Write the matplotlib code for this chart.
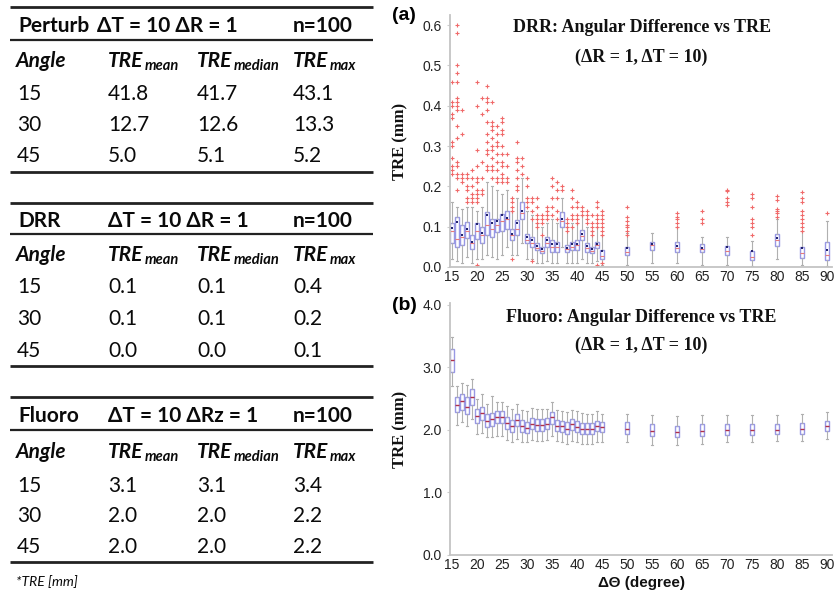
import matplotlib
matplotlib.use('Agg')
import matplotlib.pyplot as plt

# ---------------- table data ----------------
table_titles = ['Perturb', 'DRR', 'Fluoro']
table_params = ['ΔT = 10 ΔR = 1', 'ΔT = 10 ΔR = 1', 'ΔT = 10 ΔRz = 1']
table_n = ['n=100', 'n=100', 'n=100']
angle_head = 'Angle'
col_subs = ['mean', 'median', 'max']
angles = ['15', '30', '45']
perturb_vals = [['41.8', '41.7', '43.1'], ['12.7', '12.6', '13.3'], ['5.0', '5.1', '5.2']]
drr_vals = [['0.1', '0.1', '0.4'], ['0.1', '0.1', '0.2'], ['0.0', '0.0', '0.1']]
fluoro_vals = [['3.1', '3.1', '3.4'], ['2.0', '2.0', '2.2'], ['2.0', '2.0', '2.2']]
footnote = '*TRE [mm]'

# ---------------- panel (a): DRR box statistics ----------------
pos = list(range(15, 46)) + list(range(50, 91, 5))
xticks = list(range(15, 91, 5))
a_q3 = [0.108, 0.125, 0.105, 0.111, 0.080, 0.108, 0.100, 0.136, 0.120, 0.118, 0.131, 0.140, 0.095, 0.116, 0.160,
        0.083, 0.075, 0.059, 0.050, 0.075, 0.067, 0.063, 0.137, 0.055, 0.063, 0.067, 0.092, 0.059, 0.050, 0.063, 0.042,
        0.050, 0.063, 0.063, 0.056, 0.052, 0.040, 0.081, 0.050, 0.063]
a_q1 = [0.060, 0.050, 0.055, 0.073, 0.045, 0.070, 0.060, 0.080, 0.075, 0.087, 0.090, 0.095, 0.068, 0.080, 0.120,
        0.059, 0.050, 0.042, 0.034, 0.050, 0.038, 0.038, 0.100, 0.038, 0.042, 0.042, 0.067, 0.038, 0.034, 0.046, 0.020,
        0.030, 0.042, 0.036, 0.036, 0.030, 0.017, 0.052, 0.023, 0.017]
a_med = [0.090, 0.070, 0.075, 0.090, 0.060, 0.090, 0.080, 0.105, 0.095, 0.105, 0.115, 0.120, 0.080, 0.095, 0.135,
         0.068, 0.060, 0.048, 0.040, 0.060, 0.050, 0.050, 0.115, 0.045, 0.050, 0.055, 0.078, 0.047, 0.040, 0.054, 0.028,
         0.038, 0.055, 0.048, 0.045, 0.040, 0.025, 0.068, 0.035, 0.030]
a_mean = [0.097, 0.111, 0.080, 0.095, 0.063, 0.106, 0.085, 0.130, 0.110, 0.113, 0.128, 0.122, 0.083, 0.108, 0.140,
          0.075, 0.068, 0.052, 0.045, 0.067, 0.058, 0.057, 0.120, 0.048, 0.057, 0.058, 0.083, 0.053, 0.045, 0.058, 0.040,
          0.048, 0.056, 0.053, 0.048, 0.050, 0.040, 0.073, 0.047, 0.043]
a_hi = [0.160, 0.150, 0.145, 0.150, 0.150, 0.140, 0.150, 0.210, 0.200, 0.190, 0.180, 0.190, 0.140, 0.170, 0.220,
        0.140, 0.130, 0.110, 0.100, 0.110, 0.120, 0.110, 0.170, 0.100, 0.110, 0.110, 0.130, 0.100, 0.090, 0.100, 0.080,
        0.085, 0.085, 0.100, 0.075, 0.075, 0.065, 0.120, 0.090, 0.115]
a_lo = [0.020, 0.015, 0.010, 0.025, 0.010, 0.020, 0.020, 0.030, 0.025, 0.020, 0.030, 0.050, 0.030, 0.030, 0.060,
        0.020, 0.020, 0.010, 0.010, 0.015, 0.010, 0.010, 0.050, 0.010, 0.010, 0.010, 0.020, 0.010, 0.010, 0.015, 0.005,
        0.005, 0.010, 0.010, 0.005, 0.005, 0.003, 0.020, 0.005, 0.003]
a_fliers = [
    [0.46, 0.41, 0.40, 0.38, 0.37, 0.31, 0.30, 0.27, 0.25, 0.24, 0.23],
    [0.60, 0.58, 0.50, 0.48, 0.46, 0.42, 0.41, 0.40, 0.39, 0.35, 0.32, 0.26, 0.25, 0.23, 0.22, 0.19],
    [0.39, 0.33, 0.23, 0.22, 0.21],
    [0.23, 0.22, 0.20, 0.19, 0.17, 0.16],
    [0.24, 0.22, 0.20, 0.18, 0.17, 0.16],
    [0.46, 0.40, 0.29, 0.25, 0.22, 0.21, 0.19, 0.18, 0.17, 0.16, 0.005],
    [0.42, 0.38, 0.26, 0.22, 0.19, 0.18],
    [0.45, 0.42, 0.41, 0.39, 0.36, 0.33, 0.31, 0.29, 0.28, 0.25, 0.24],
    [0.41, 0.36, 0.35, 0.34, 0.32, 0.30, 0.29, 0.27, 0.25, 0.24, 0.22],
    [0.35, 0.33, 0.31, 0.30, 0.28, 0.26, 0.24, 0.22, 0.21],
    [0.37, 0.36, 0.34, 0.33, 0.30, 0.28, 0.26, 0.25, 0.23, 0.22, 0.21],
    [0.28, 0.25, 0.22, 0.21],
    [0.17, 0.16, 0.15, 0.14, 0.02],
    [0.31, 0.27, 0.26, 0.24, 0.22, 0.20, 0.19],
    [0.27, 0.25, 0.23],
    [0.22, 0.20, 0.17, 0.16, 0.15],
    [0.17, 0.16, 0.14, 0.12, 0.015],
    [0.17, 0.15, 0.13, 0.12, 0.11, 0.10],
    [0.13, 0.12, 0.11, 0.08],
    [0.15, 0.14, 0.13, 0.12],
    [0.22, 0.20, 0.17, 0.15, 0.13],
    [0.21, 0.19, 0.17, 0.14, 0.12],
    [0.20, 0.19],
    [0.12, 0.11, 0.10, 0.09],
    [0.19, 0.17, 0.15, 0.13, 0.12, 0.10],
    [0.16, 0.15, 0.13, 0.12, 0.11],
    [0.15, 0.14, 0.13],
    [0.14, 0.13, 0.12, 0.11],
    [0.13, 0.11, 0.10, 0.09, 0.08],
    [0.16, 0.15, 0.13, 0.12, 0.11, 0.10, 0.005],
    [0.14, 0.13, 0.12, 0.11, 0.10, 0.09, 0.08, 0.01],
    [0.15, 0.125, 0.115, 0.105, 0.10, 0.09, 0.08],
    [],
    [0.135, 0.125, 0.118, 0.11, 0.10],
    [0.14, 0.12, 0.11],
    [0.19, 0.188, 0.17, 0.16, 0.155],
    [0.18, 0.17, 0.15, 0.12, 0.11, 0.10, 0.08],
    [0.175, 0.165, 0.145, 0.14, 0.135, 0.125],
    [0.185, 0.17, 0.16, 0.14, 0.13, 0.12, 0.11, 0.10, 0.09],
    [0.133],
]

# ---------------- panel (b): Fluoro box statistics ----------------
b_med = [3.12, 2.40, 2.46, 2.37, 2.52, 2.22, 2.27, 2.15, 2.17, 2.21, 2.21, 2.11, 2.06, 2.16, 2.06,
         2.03, 2.10, 2.08, 2.08, 2.10, 2.20, 2.07, 2.06, 2.02, 2.09, 2.05, 2.02, 2.02, 2.02, 2.06, 2.04,
         2.02, 1.99, 1.97, 1.99, 2.00, 2.00, 2.00, 2.02, 2.06]
b_q3 = [3.30, 2.53, 2.58, 2.52, 2.65, 2.33, 2.37, 2.25, 2.27, 2.30, 2.30, 2.20, 2.16, 2.25, 2.16,
        2.13, 2.19, 2.17, 2.18, 2.19, 2.28, 2.16, 2.15, 2.12, 2.17, 2.14, 2.11, 2.11, 2.11, 2.14, 2.12,
        2.12, 2.09, 2.07, 2.09, 2.10, 2.10, 2.10, 2.11, 2.14]
b_q1 = [2.93, 2.28, 2.32, 2.25, 2.40, 2.11, 2.16, 2.05, 2.07, 2.11, 2.11, 2.02, 1.97, 2.06, 1.97,
        1.95, 2.01, 1.99, 1.99, 2.01, 2.10, 1.98, 1.97, 1.94, 2.00, 1.97, 1.94, 1.94, 1.94, 1.98, 1.96,
        1.94, 1.91, 1.89, 1.91, 1.92, 1.92, 1.93, 1.94, 1.98]
b_hi = [3.48, 2.70, 2.75, 2.72, 2.82, 2.50, 2.58, 2.42, 2.55, 2.45, 2.45, 2.38, 2.33, 2.42, 2.32,
        2.30, 2.35, 2.33, 2.33, 2.33, 2.45, 2.32, 2.30, 2.28, 2.32, 2.30, 2.27, 2.26, 2.26, 2.30, 2.26,
        2.26, 2.24, 2.22, 2.24, 2.24, 2.24, 2.24, 2.25, 2.28]
b_lo = [2.70, 2.08, 2.12, 2.06, 2.18, 1.93, 1.95, 1.88, 1.88, 1.90, 1.90, 1.84, 1.80, 1.86, 1.80,
        1.80, 1.84, 1.82, 1.82, 1.84, 1.90, 1.82, 1.80, 1.78, 1.82, 1.80, 1.78, 1.78, 1.78, 1.80, 1.80,
        1.80, 1.76, 1.76, 1.78, 1.80, 1.80, 1.82, 1.82, 1.86]

a_yticks = [0.0, 0.1, 0.2, 0.3, 0.4, 0.5, 0.6]
b_yticks = [0.0, 1.0, 2.0, 3.0, 4.0]

# ---------------- figure ----------------
W, H = 835, 596
fig = plt.figure(figsize=(W / 100, H / 100), dpi=100)
fig.patch.set_facecolor('white')

ov = fig.add_axes([0, 0, 1, 1])
ov.set_xlim(0, W)
ov.set_ylim(H, 0)
ov.axis('off')

TF = ['Lato', 'DejaVu Sans']
TXT = '#0a0a0a'
col_x = [16, 108, 197, 293]
param_x = [97, 108, 108]
rule_x = (10, 373)
# per table: top rule, header baseline, mid rule, head2 baseline, 3 row baselines, bottom rule
table_y = [
    [7, 32, 40, 67, 100, 131, 162, 172],
    [203, 227, 234, 261, 293, 325, 357, 366],
    [397, 422, 430, 458, 492, 522, 553, 562],
]
all_vals = [perturb_vals, drr_vals, fluoro_vals]

for ti in range(3):
    ys = table_y[ti]
    ov.plot(rule_x, (ys[0], ys[0]), color='#222222', lw=2.0, solid_capstyle='butt')
    ov.plot(rule_x, (ys[2], ys[2]), color='#222222', lw=1.6, solid_capstyle='butt')
    ov.plot(rule_x, (ys[7], ys[7]), color='#222222', lw=2.0, solid_capstyle='butt')
    ov.text(col_x[0] + 2, ys[1], table_titles[ti], family=TF, fontsize=15, fontweight='bold',
            va='baseline', ha='left', color=TXT)
    ov.text(param_x[ti], ys[1], table_params[ti], family=TF, fontsize=15, fontweight='bold',
            va='baseline', ha='left', color=TXT)
    ov.text(col_x[3], ys[1], table_n[ti], family=TF, fontsize=15, fontweight='bold',
            va='baseline', ha='left', color=TXT)
    ov.text(col_x[0], ys[3], angle_head, family=TF, fontsize=15, fontweight='bold',
            fontstyle='italic', va='baseline', ha='left', color=TXT)
    for ci in range(3):
        t = ov.text(col_x[ci + 1], ys[3], 'TRE', family=TF, fontsize=15, fontweight='bold',
                    fontstyle='italic', va='baseline', ha='left', color=TXT)
        ov.annotate(col_subs[ci], xy=(1, 0), xycoords=t, xytext=(1, 1),
                    textcoords='offset pixels', family=TF, fontsize=10.5, fontweight='bold',
                    fontstyle='italic', va='baseline', ha='left', color=TXT)
    for ri in range(3):
        ov.text(col_x[0] + 1, ys[4 + ri], angles[ri], family=TF, fontsize=15,
                va='baseline', ha='left', color=TXT)
        for ci in range(3):
            ov.text(col_x[ci + 1], ys[4 + ri], all_vals[ti][ri][ci], family=TF, fontsize=15,
                    va='baseline', ha='left', color=TXT)

ov.text(col_x[0], 586, footnote, family=TF, fontsize=10, fontstyle='italic',
        va='baseline', ha='left', color=TXT)

# panel labels and titles
ov.text(392, 16, '(a)', family=['Liberation Sans'], fontsize=14, fontweight='bold', va='center', ha='left')
ov.text(392, 306, '(b)', family=['Liberation Sans'], fontsize=14, fontweight='bold', va='center', ha='left')

SERIF = ['Liberation Serif', 'DejaVu Serif']
ov.text(642, 28, 'DRR: Angular Difference vs TRE', family=SERIF, fontsize=13, fontweight='bold',
        va='center', ha='center', color='#111111')
ov.text(641, 57, '(ΔR = 1, ΔT = 10)', family=SERIF, fontsize=13, fontweight='bold',
        va='center', ha='center', color='#111111')
ov.text(641, 317, 'Fluoro: Angular Difference vs TRE', family=SERIF, fontsize=13, fontweight='bold',
        va='center', ha='center', color='#111111')
ov.text(641, 345, '(ΔR = 1, ΔT = 10)', family=SERIF, fontsize=13, fontweight='bold',
        va='center', ha='center', color='#111111')


def style_axes(ax, yticks, ylim):
    ax.set_xlim(14.6, 91)
    ax.set_ylim(*ylim)
    ax.set_xticks(xticks)
    ax.set_xticklabels([str(v) for v in xticks], family=['Liberation Sans'], fontsize=10, color='#222222')
    ax.set_yticks(yticks)
    ax.set_yticklabels(['%.1f' % v for v in yticks], family=['Liberation Sans'], fontsize=10, color='#222222')
    ax.tick_params(axis='x', length=0, pad=2)
    ax.tick_params(axis='y', length=2, color='#cccccc', pad=4)
    for s in ('top', 'right'):
        ax.spines[s].set_visible(False)
    for s in ('left', 'bottom'):
        ax.spines[s].set_color('#c4c4c4')
        ax.spines[s].set_linewidth(1.3)
    ax.set_facecolor('none')
    ax.set_ylabel('TRE (mm)', family=SERIF, fontsize=12, fontweight='bold', color='#111111')
    ax.yaxis.set_label_coords(-0.11, 0.5)


box_kw = dict(patch_artist=True, manage_ticks=False, widths=0.75,
              boxprops=dict(facecolor='white', edgecolor='#9898e4', linewidth=1.0),
              whiskerprops=dict(color='#b0b0b0', linewidth=0.8),
              capprops=dict(color='#b0b0b0', linewidth=0.8),
              capwidths=0.3)

axA = fig.add_axes([450 / W, 1 - 267 / H, 382 / W, 252 / H])
stats_a = []
for i in range(len(pos)):
    stats_a.append(dict(med=a_med[i], q1=a_q1[i], q3=a_q3[i], whislo=a_lo[i], whishi=a_hi[i],
                        mean=a_mean[i], fliers=a_fliers[i]))
res = axA.bxp(stats_a, positions=pos, showmeans=True, showfliers=True,
              medianprops=dict(color='#e87a7a', linewidth=0.8),
              meanprops=dict(marker='s', markersize=1.6, markeredgewidth=0,
                             markerfacecolor='#23236e'),
              flierprops=dict(marker='+', markersize=3.5, markeredgewidth=0.8),
              **box_kw)
for fl in res['fliers']:
    fl.set_markeredgecolor('#f06a6a')
    fl.set_markerfacecolor('#f06a6a')
    fl.set_color('#f06a6a')
style_axes(axA, a_yticks, (0, 0.625))

axB = fig.add_axes([450 / W, 1 - 555 / H, 382 / W, 252 / H])
stats_b = []
for i in range(len(pos)):
    stats_b.append(dict(med=b_med[i], q1=b_q1[i], q3=b_q3[i], whislo=b_lo[i], whishi=b_hi[i], fliers=[]))
axB.bxp(stats_b, positions=pos, showmeans=False, showfliers=False,
        medianprops=dict(color='#b0304a', linewidth=1.0), **box_kw)
style_axes(axB, b_yticks, (0, 4.03))
axB.set_xlabel('ΔΘ (degree)', family=['Liberation Sans', 'DejaVu Sans'], fontsize=11, fontweight='bold',
               color='#111111', labelpad=3)

fig.savefig('out.png', dpi=100, facecolor='white')
